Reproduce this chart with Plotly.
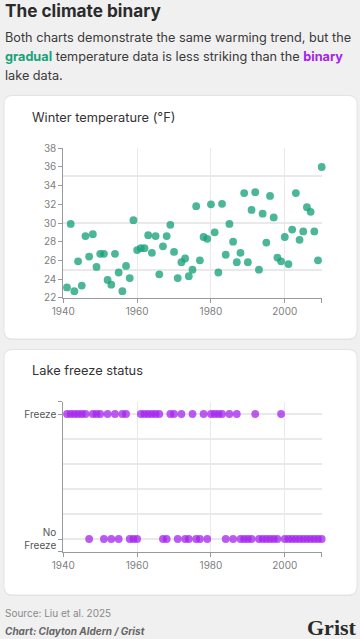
import plotly.graph_objects as go

# ---------------- data ----------------
temp_years = list(range(1941, 2011))
temp_values = [23.1, 29.9, 22.7, 25.9, 23.3, 28.6, 26.4, 28.8, 25.3, 26.7,
               26.7, 23.9, 23.4, 26.7, 24.7, 22.7, 25.4, 24.1, 30.3, 27.1,
               27.3, 27.3, 28.7, 26.8, 28.6, 24.5, 27.5, 28.6, 29.8, 26.9,
               24.1, 25.8, 26.2, 24.3, 25.0, 31.8, 26.0, 28.5, 28.3, 32.0,
               29.0, 24.7, 32.05, 26.6, 29.9, 28.0, 25.8, 26.8, 33.2, 25.8,
               31.4, 33.3, 25.0, 31.0, 27.9, 32.9, 30.6, 26.3, 25.9, 28.5,
               25.6, 29.3, 33.2, 28.2, 29.1, 31.7, 31.2, 29.1, 26.0, 36.0]

freeze_years = [1941, 1942, 1943, 1944, 1945, 1946, 1948, 1949, 1950, 1952,
                1954, 1956, 1957, 1961, 1962, 1963, 1964, 1965, 1966, 1969,
                1970, 1972, 1975, 1978, 1980, 1981, 1982, 1983, 1985, 1987,
                1992, 1999]
all_years = list(range(1941, 2011))
freeze_status = [1 if y in freeze_years else 0 for y in all_years]

temp_ticks = [22, 24, 26, 28, 30, 32, 34, 36, 38]
year_ticks = [1940, 1960, 1980, 2000, 2010]
year_labels = ["1940", "1960", "1980", "2000", ""]
freeze_ticks = [-0.1, 0, 1, 1.1]
freeze_labels = ["", "No<br>Freeze", "Freeze", ""]

# ---------------- styling ----------------
W, H = 360, 639
FONT = "Inter"
GREEN = "#1aa27b"
PURPLE = "#a424ee"
GRID = "#e9e9e9"
AXIS = "#9a9a9a"
TICKFONT = dict(family=FONT, size=10, color="#808080")


def X(px):
    return px / W


def Y(py):
    return 1 - py / H


def rrect(x0, y0, x1, y1, r):
    rx, ry = r, r
    p = (f"M {X(x0+rx)} {Y(y0)} L {X(x1-rx)} {Y(y0)} Q {X(x1)} {Y(y0)} {X(x1)} {Y(y0+ry)} "
         f"L {X(x1)} {Y(y1-ry)} Q {X(x1)} {Y(y1)} {X(x1-rx)} {Y(y1)} "
         f"L {X(x0+rx)} {Y(y1)} Q {X(x0)} {Y(y1)} {X(x0)} {Y(y1-ry)} "
         f"L {X(x0)} {Y(y0+ry)} Q {X(x0)} {Y(y0)} {X(x0+rx)} {Y(y0)} Z")
    return p


fig = go.Figure()

fig.add_trace(go.Scatter(
    x=temp_years, y=temp_values, mode="markers", cliponaxis=False,
    marker=dict(size=7.8, color=GREEN, opacity=0.78, line=dict(width=0)),
    xaxis="x", yaxis="y", hoverinfo="x+y", showlegend=False))

fig.add_trace(go.Scatter(
    x=all_years, y=freeze_status, mode="markers", cliponaxis=False,
    marker=dict(size=7.8, color=PURPLE, opacity=0.75, line=dict(width=0)),
    xaxis="x2", yaxis="y2", hoverinfo="x+y", showlegend=False))

x_left, x_right = 63.3, 321.7
common_x = dict(range=[1940, 2010], tickvals=year_ticks, ticktext=year_labels,
                showgrid=False, zeroline=False, showline=True, linecolor=AXIS,
                linewidth=1, ticks="outside", ticklen=4, tickcolor=AXIS,
                tickfont=TICKFONT, fixedrange=True, automargin=False,
                minor=dict(tickvals=[1960, 1980, 2000], showgrid=True,
                           gridcolor=GRID, gridwidth=1, ticks=""))

fig.update_layout(
    width=W, height=H,
    margin=dict(l=0, r=0, t=0, b=0, pad=0, autoexpand=False),
    paper_bgcolor="#f0f0f0",
    plot_bgcolor="rgba(0,0,0,0)",
    font=dict(family=FONT, color="#333333"),
    showlegend=False,
    xaxis=dict(domain=[X(x_left), X(x_right)], anchor="y", **common_x),
    yaxis=dict(domain=[Y(297.7), Y(148.3)], anchor="x", range=[22, 38],
               tickvals=temp_ticks, showgrid=False, zeroline=False,
               showline=True, linecolor=AXIS, linewidth=1, ticks="outside",
               ticklen=4, tickcolor=AXIS, tickfont=TICKFONT, fixedrange=True,
               automargin=False,
               minor=dict(tickvals=[25, 30, 35], showgrid=True,
                          gridcolor=GRID, gridwidth=1.5, ticks="")),
    xaxis2=dict(domain=[X(x_left), X(x_right)], anchor="y2", **common_x),
    yaxis2=dict(domain=[Y(551.5), Y(401.5)], anchor="x2", range=[-0.1, 1.1],
                tickvals=freeze_ticks, ticktext=freeze_labels, showgrid=False,
                zeroline=False, showline=True, linecolor=AXIS, linewidth=1,
                ticks="outside", ticklen=4, tickcolor=AXIS,
                tickfont=dict(family=FONT, size=10, color="#555555"),
                fixedrange=True, automargin=False,
                minor=dict(tickvals=[0, 0.2, 0.4, 0.6, 0.8, 1.0], showgrid=True,
                           gridcolor=GRID, gridwidth=1.5, ticks="")),
    shapes=[
        dict(type="path", xref="paper", yref="paper", path=rrect(3.5, 95, 357.5, 340, 9),
             fillcolor="#e3e3e3", line=dict(width=0), layer="below"),
        dict(type="path", xref="paper", yref="paper", path=rrect(4.5, 96, 356.5, 338.5, 8),
             fillcolor="#ffffff", line=dict(width=0), layer="below"),
        dict(type="path", xref="paper", yref="paper", path=rrect(3.5, 349, 357.5, 596, 9),
             fillcolor="#e3e3e3", line=dict(width=0), layer="below"),
        dict(type="path", xref="paper", yref="paper", path=rrect(4.5, 350, 356.5, 594.5, 8),
             fillcolor="#ffffff", line=dict(width=0), layer="below"),
    ],
)

ann = []


def add_text(text, x, y, size, color="#333333", family=FONT, xanchor="left"):
    ann.append(dict(text=text, x=X(x), y=Y(y), xref="paper", yref="paper",
                    xanchor=xanchor, yanchor="top", showarrow=False,
                    font=dict(family=family, size=size, color=color),
                    borderpad=0, align="left"))


add_text("<b>The climate binary</b>", 4, -1, 17.2, "#2b2b2b")
add_text("Both charts demonstrate the same warming trend, but the", 4, 28.5, 12.7, "#3a3a3a")
add_text(f"<b><span style='color:{GREEN}'>gradual</span></b> temperature data is less striking than the "
         f"<b><span style='color:{PURPLE}'>binary</span></b>", 4, 48, 12.7, "#3a3a3a")
add_text("lake data.", 4, 67.5, 12.7, "#3a3a3a")
add_text("Winter temperature (°F)", 31, 109, 12.8, "#333333")
add_text("Lake freeze status", 31, 362, 12.8, "#333333")
add_text("Source: Liu et al. 2025", 4, 606, 10, "#8a8a8a")
add_text("<b><i>Chart: Clayton Aldern / Grist</i></b>", 4, 624, 10, "#666666")
add_text("<b>Grist</b>", 358, 614, 22, "#2a2a2a", family="Liberation Serif", xanchor="right")

fig.update_layout(annotations=ann)

fig.write_html("out.html",
               config={"displayModeBar": False},
               post_script="document.body.style.margin='0';document.body.style.overflow='hidden';")
